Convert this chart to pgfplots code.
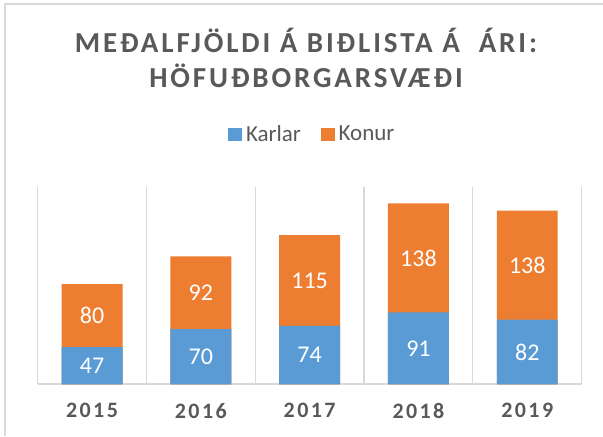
\documentclass[border=0pt]{standalone}
\usepackage{pgfplots}
\usepackage{pgfplotstable}
\pgfplotsset{compat=1.18}
\usepackage{fontspec}
\setmainfont{Carlito}
\newfontfamily\titlefont[LetterSpace=10]{Carlito}
\newfontfamily\xfont[LetterSpace=11]{Carlito}
\definecolor{cblue}{HTML}{5B9BD5}
\definecolor{corange}{HTML}{ED7D31}
\definecolor{tgrey}{HTML}{595959}
\definecolor{lgrey}{HTML}{D9D9D9}
\pgfplotstableread{
x karlar konur
0 47 80
1 70 92
2 74 115
3 91 138
4 82 138
}\datatable
\begin{document}
\begin{tikzpicture}[x=0.5pt,y=0.5pt]
\path[use as bounding box] (0,0) rectangle (603,436);
\draw[lgrey, line width=1pt] (5,0) -- (5,432) -- (603,432);
\node[text=tgrey, font=\titlefont\bfseries\fontsize{14.5}{16}\selectfont] at (306,396) {MEÐALFJÖLDI Á BIÐLISTA Á \ ÁRI:};
\node[text=tgrey, font=\titlefont\bfseries\fontsize{14.5}{16}\selectfont] at (306,360) {HÖFUÐBORGARSVÆÐI};
\begin{axis}[
  at={(34.6,65.5)}, anchor=south west,
  scale only axis, width=272pt, height=98.7pt,
  xmin=-0.5, xmax=4.5, ymin=0, ymax=250,
  axis y line=none,
  axis x line*=bottom,
  x axis line style={lgrey, line width=0.8pt, -},
  xtick={0,1,2,3,4},
  xticklabels={2015,2016,2017,2018,2019},
  major tick length=0pt,
  xticklabel style={text=tgrey, font=\xfont\bfseries\fontsize{11}{13}\selectfont, yshift=-6pt},
  extra x ticks={-0.5,0.5,1.5,2.5,3.5,4.5},
  extra x tick labels={},
  extra x tick style={grid=major, major grid style={lgrey, line width=0.6pt}},
  clip=false,
  /pgf/number format/assume math mode=true,
  legend style={at={(0.507,1.265)}, anchor=center, draw=none, fill=none, legend columns=2,
    font=\fontsize{11.5}{13}\selectfont, text=tgrey,
    /tikz/every even column/.append style={column sep=8pt}},
  legend image code/.code={\fill[#1] (0pt,-3.4pt) rectangle (6.8pt,3.4pt);},
  lbl/.style={draw=none, mark=none, nodes near coords,
    every node near coord/.append style={text=white, font=\fontsize{12}{14}\selectfont, anchor=center}},
]
\addlegendimage{fill=cblue, draw=none}
\addlegendentry{Karlar}
\addlegendimage{fill=corange, draw=none}
\addlegendentry{Konur}
\addplot[ybar, bar shift=0pt, bar width=0.56, fill=corange, draw=none, forget plot]
  table[x=x, y expr=\thisrow{karlar}+\thisrow{konur}] {\datatable};
\addplot[ybar, bar shift=0pt, bar width=0.56, fill=cblue, draw=none, forget plot]
  table[x=x, y=karlar] {\datatable};
\addplot[lbl, forget plot, point meta=explicit]
  table[x=x, y expr=\thisrow{karlar}/2, meta=karlar] {\datatable};
\addplot[lbl, forget plot, point meta=explicit]
  table[x=x, y expr=\thisrow{karlar}+\thisrow{konur}/2, meta=konur] {\datatable};
\end{axis}
\end{tikzpicture}
\end{document}
